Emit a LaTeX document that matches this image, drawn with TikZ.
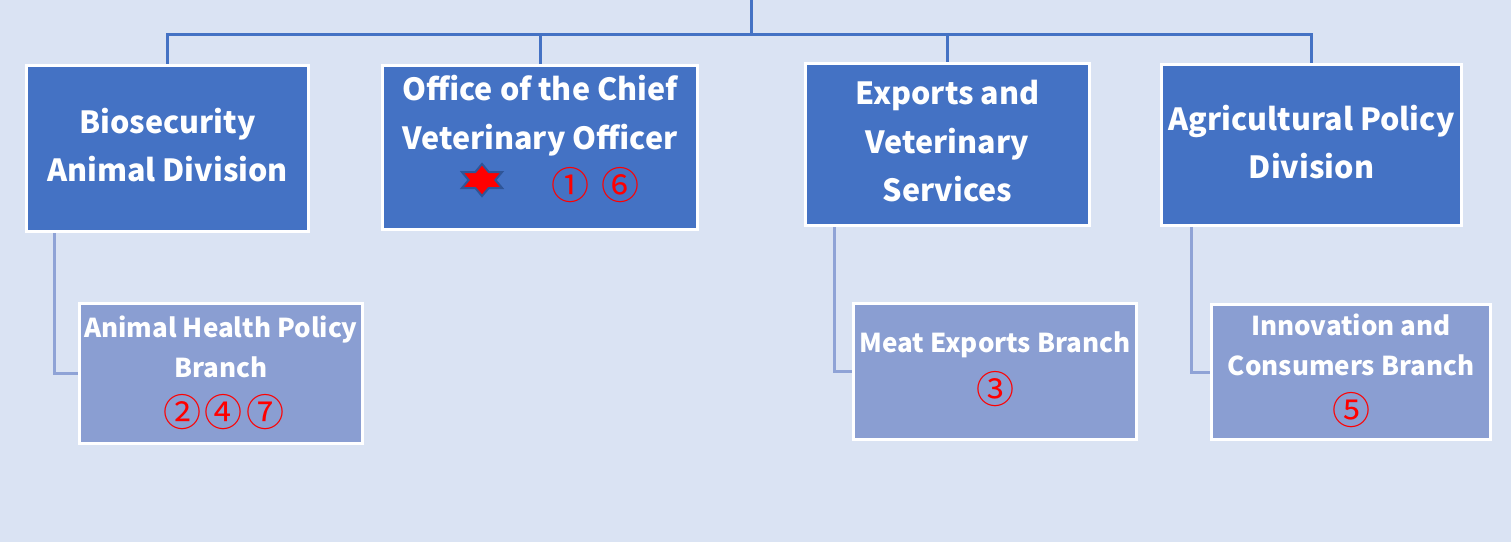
\documentclass[tikz,border=0pt]{standalone}
\usepackage{fontspec}
\setmainfont{Noto Sans CJK JP}
\newfontfamily\cjk{Noto Sans CJK JP}
\usetikzlibrary{calc}
\definecolor{bgcol}{HTML}{DAE3F3}
\definecolor{topfill}{HTML}{4472C4}
\definecolor{childfill}{HTML}{8A9ED2}
\definecolor{linetop}{HTML}{4472C4}
\definecolor{linechild}{HTML}{8FA3D6}
\definecolor{starblue}{HTML}{2F5597}
\definecolor{numred}{HTML}{FF0000}
\tikzset{
  topbox/.style={draw=white, line width=3pt, fill=topfill, inner sep=0pt},
  childbox/.style={draw=white, line width=3pt, fill=childfill, inner sep=0pt},
  toptext/.style={text=white, align=center, inner sep=0pt, font=\fontsize{30.5}{48.5}\selectfont\bfseries},
  childtext/.style={text=white, align=center, inner sep=0pt, font=\fontsize{26}{40}\selectfont\bfseries},
  nums/.style={text=numred, inner sep=0pt, font=\cjk\fontsize{38}{40}\selectfont},
  conntop/.style={draw=linetop, line width=3pt},
  connchild/.style={draw=linechild, line width=3pt},
  starshape/.style={fill=numred, draw=starblue, line width=2pt, line join=miter}
}
\begin{document}
\begin{tikzpicture}[x=1pt, y=-1pt]
\useasboundingbox[fill=bgcol] (0,0) rectangle (1511,542);

% top level boxes
\node[topbox, minimum width=282pt, minimum height=166pt] (bio) at (167.5,148.5) {};
\node[topbox, minimum width=315pt, minimum height=164pt] (ocvo) at (540,147.5) {};
\node[topbox, minimum width=284pt, minimum height=162pt] (evs) at (947.5,144.5) {};
\node[topbox, minimum width=300pt, minimum height=161pt] (apd) at (1311.5,145) {};

% branch boxes
\node[childbox, minimum width=283pt, minimum height=140pt] (ahp) at (221,373.5) {};
\node[childbox, minimum width=283pt, minimum height=136pt] (meb) at (995,371.5) {};
\node[childbox, minimum width=279pt, minimum height=135pt] (icb) at (1351,372) {};

% texts
\node[toptext] (tbio) at (167.5,145) {Biosecurity\\Animal Division};
\node[toptext] (tocvo) at (540,115.5) {Office of the Chief\\Veterinary Officer};
\node[nums] (n16) at (595.5,185) {①\hspace{12pt}⑥};
\filldraw[starshape, shift={(482,180)}, xscale=1.45]
  (90:16) -- (120:9.24) -- (150:16) -- (180:9.24) -- (210:16) -- (240:9.24)
  -- (270:16) -- (300:9.24) -- (330:16) -- (0:9.24) -- (30:16) -- (60:9.24) -- cycle;
\node[toptext] (tevs) at (947.5,141.5) {Exports and\\Veterinary\\Services};
\node[toptext] (tapd) at (1311.5,142) {Agricultural Policy\\Division};

\node[childtext] (tahp) at (221,347) {Animal Health Policy\\Branch};
\node[nums] (n247) at (224,412) {②\hspace{4pt}④\hspace{4pt}⑦};
\node[childtext] (tmeb) at (995,345) {Meat Exports Branch};
\node[nums] (n3) at (995,389) {③};
\node[childtext] (ticb) at (1351,345) {Innovation and\\Consumers Branch};
\node[nums] (n5) at (1351,410) {⑤};

% connectors
\coordinate (root) at (751,0);
\coordinate (hub) at (751,34);
\draw[conntop] (root) -- (hub);
\draw[conntop] (hub) -| (bio.north);
\draw[conntop] (hub) -| (ocvo.north);
\draw[conntop] (hub) -| (evs.north);
\draw[conntop] (hub) -| (apd.north);

\draw[connchild] ($(bio.south west)+(29,0)$) |- (ahp.west);
\draw[connchild] ($(evs.south west)+(30,0)$) |- (meb.west);
\draw[connchild] ($(apd.south west)+(31,0)$) |- (icb.west);
\end{tikzpicture}
\end{document}
